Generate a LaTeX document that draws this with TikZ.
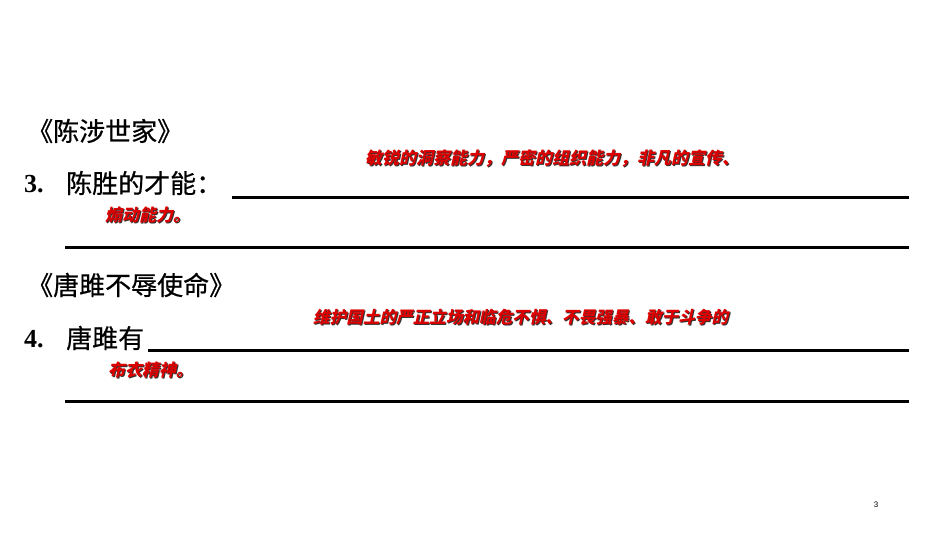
\documentclass[tikz,border=0pt]{standalone}
\usepackage{fontspec}
\newfontfamily\cjk[FakeBold=0.6]{Noto Sans CJK SC}
\newfontfamily\redf[FakeSlant=0.22]{Noto Sans CJK SC}
\newfontfamily\numf{Liberation Serif}
\newfontfamily\smallf{Liberation Sans}
\definecolor{ansred}{RGB}{220,0,0}
\begin{document}
\begin{tikzpicture}[x=1pt,y=-1pt,
  title/.style={anchor=west,inner sep=0pt,font=\cjk\fontsize{26}{26}\selectfont},
  num/.style={anchor=west,inner sep=0pt,font=\numf\bfseries\fontsize{26}{26}\selectfont},
  ans/.style={anchor=west,inner sep=0pt,text=ansred,font=\redf\bfseries\fontsize{17}{17}\selectfont},
  shadow/.style={anchor=west,inner sep=0pt,text=black!80,font=\redf\bfseries\fontsize{17}{17}\selectfont},
  narrow/.style={font=\redf\bfseries\fontsize{16.6}{16.6}\selectfont},
  blank/.style={line width=3pt}]
\useasboundingbox (0,0) rectangle (950,535);
\fill[white] (0,0) rectangle (950,535);
% Section 1
\node[title] (t1) at (27,131) {《陈涉世家》};
\node[num] (n3) at (24,184) {3.};
\node[title] (q3) at (66,183) {陈胜的才能：};
\coordinate (l1a) at (232,197);
\coordinate (l1b) at (909,197);
\draw[blank] (l1a) -- (l1b);
\node[shadow] (a1s) at (366,159) {敏锐的洞察能力，严密的组织能力，非凡的宣传、};
\node[ans] (a1) at (365,158) {敏锐的洞察能力，严密的组织能力，非凡的宣传、};
\node[shadow] (a2s) at (106,216) {煽动能力。};
\node[ans] (a2) at (105,215) {煽动能力。};
\coordinate (l2a) at (65,247);
\coordinate (l2b) at (909,247);
\draw[blank] (l2a) -- (l2b);
% Section 2
\node[title] (t2) at (27,285) {《唐雎不辱使命》};
\node[num] (n4) at (24,339) {4.};
\node[title] (q4) at (66,338) {唐雎有};
\coordinate (l3a) at (148,350);
\coordinate (l3b) at (909,350);
\draw[blank] (l3a) -- (l3b);
\node[shadow,narrow] (a3s) at (314,318) {维护国土的严正立场和临危不惧、不畏强暴、敢于斗争的};
\node[ans,narrow] (a3) at (313,317) {维护国土的严正立场和临危不惧、不畏强暴、敢于斗争的};
\node[shadow] (a4s) at (109,371) {布衣精神。};
\node[ans] (a4) at (108,370) {布衣精神。};
\coordinate (l4a) at (65,401);
\coordinate (l4b) at (909,401);
\draw[blank] (l4a) -- (l4b);
% page number
\node[anchor=center,inner sep=0pt,font=\smallf\fontsize{8}{8}\selectfont] (pg) at (876,505) {3};
\end{tikzpicture}
\end{document}
